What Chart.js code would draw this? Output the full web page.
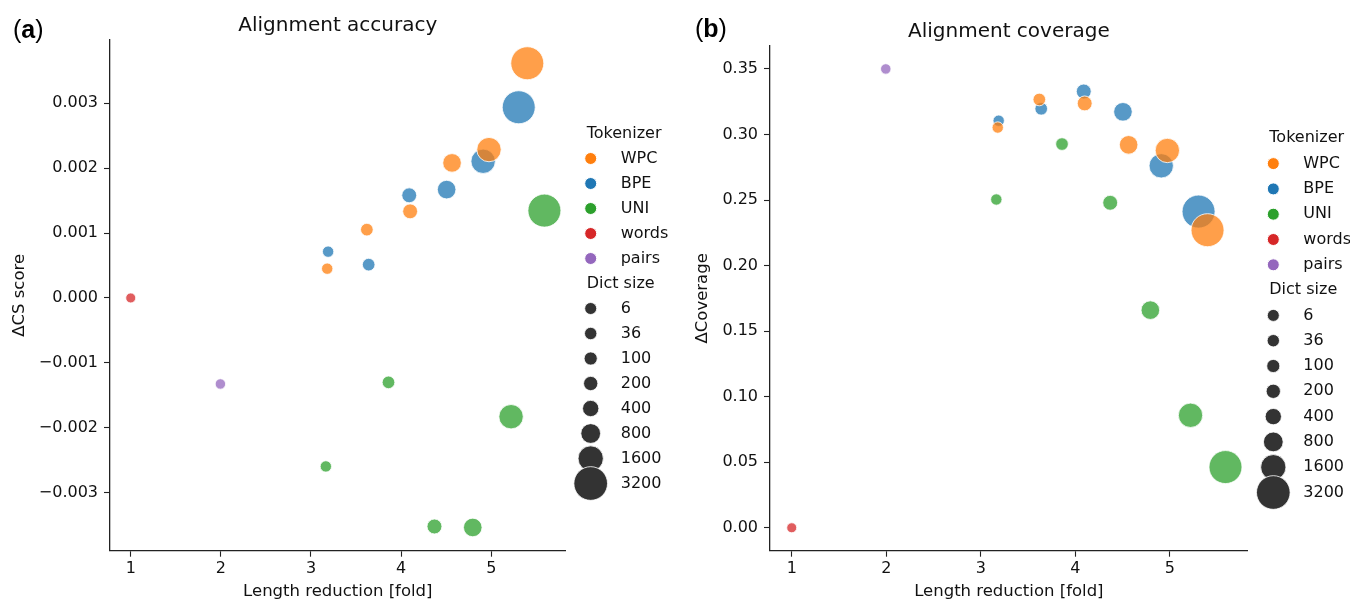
<!DOCTYPE html>
<html><head><meta charset="utf-8">
<script src="https://cdn.jsdelivr.net/npm/chart.js@4/dist/chart.umd.min.js"></script>
<style>
html,body{margin:0;padding:0;background:#fff;}
#wrap{position:relative;width:1350px;height:600px;overflow:hidden;background:#fff;}
canvas{position:absolute;top:0;}
#c1{left:0;} #c2{left:675px;}
</style></head><body>
<div id="wrap"><canvas id="c1" width="675" height="600"></canvas><canvas id="c2" width="675" height="600"></canvas></div>
<script>
// ---------------- data ----------------
const tokenizers = ['WPC', 'BPE', 'UNI', 'words', 'pairs'];
const dictSizes = [6, 36, 100, 200, 400, 800, 1600, 3200];
const subwordDict = [100, 200, 400, 800, 1600, 3200];
const wordsDict = [6];
const pairsDict = [36];

const wpcReduction = [3.18, 3.62, 4.10, 4.565, 4.975, 5.40];
const bpeReduction = [3.19, 3.64, 4.09, 4.505, 4.91, 5.305];
const uniReduction = [3.165, 3.86, 4.37, 4.795, 5.22, 5.59];
const wordsReduction = [1.0];
const pairsReduction = [1.995];

const wpcCS = [0.000451, 0.001052, 0.001334, 0.00208, 0.002285, 0.003615];
const bpeCS = [0.000713, 0.000513, 0.001581, 0.001669, 0.002105, 0.002937];
const uniCS = [-0.002595, -0.0013, -0.00352, -0.003535, -0.001829, 0.001345];
const wordsCS = [0.0];
const pairsCS = [-0.001325];

const wpcCov = [0.3053, 0.3267, 0.3237, 0.2921, 0.2878, 0.2270];
const bpeCov = [0.3105, 0.3196, 0.3328, 0.3173, 0.2761, 0.2412];
const uniCov = [0.2504, 0.2927, 0.2479, 0.1660, 0.0858, 0.0463];
const wordsCov = [0.0];
const pairsCov = [0.350];

const xTicks = [1, 2, 3, 4, 5];
const xTickLabels = ['1', '2', '3', '4', '5'];
const csTicks = [-0.003, -0.002, -0.001, 0, 0.001, 0.002, 0.003];
const csTickLabels = ['\u22120.003', '\u22120.002', '\u22120.001', '0.000', '0.001', '0.002', '0.003'];
const covTicks = [0, 0.05, 0.10, 0.15, 0.20, 0.25, 0.30, 0.35];
const covTickLabels = ['0.00', '0.05', '0.10', '0.15', '0.20', '0.25', '0.30', '0.35'];

// ---------------- styles ----------------
const FONT = 'DejaVu Sans';
Chart.defaults.font.family = FONT;
Chart.defaults.color = '#111';
const tokColors = { WPC: [255,127,14], BPE: [31,119,180], UNI: [44,160,44], words: [214,39,40], pairs: [148,103,189] };
const rgba = (c, a) => `rgba(${c[0]},${c[1]},${c[2]},${a})`;
const sMin = Math.min(...dictSizes), sMax = Math.max(...dictSizes);
function markerDiameter(s) { // area-linear size mapping
  const a0 = 100, a1 = 1089;
  return Math.sqrt(a0 + (s - sMin) * (a1 - a0) / (sMax - sMin));
}

function makeDatasets(ys) {
  const groups = [
    ['WPC', wpcReduction, ys.WPC, subwordDict],
    ['BPE', bpeReduction, ys.BPE, subwordDict],
    ['UNI', uniReduction, ys.UNI, subwordDict],
    ['words', wordsReduction, ys.words, wordsDict],
    ['pairs', pairsReduction, ys.pairs, pairsDict]
  ];
  return groups.map(([name, xs, yv, ds]) => ({
    label: name,
    data: xs.map((x, i) => ({ x: x, y: yv[i] })),
    pointRadius: ds.map(s => markerDiameter(s) / 2),
    pointHoverRadius: ds.map(s => markerDiameter(s) / 2),
    backgroundColor: rgba(tokColors[name], 0.75),
    borderColor: 'rgba(255,255,255,0.8)',
    borderWidth: 1,
    showLine: false
  }));
}

const extrasPlugin = {
  id: 'extras',
  afterDraw(chart, args, o) {
    const ctx = chart.ctx, ca = chart.chartArea;
    ctx.save();
    // title
    ctx.fillStyle = '#111';
    ctx.font = `20px "${FONT}"`;
    ctx.textAlign = 'center';
    ctx.textBaseline = 'alphabetic';
    ctx.fillText(o.title, (ca.left + ca.right) / 2, o.titleBaseline);
    // panel label "(a)"
    ctx.textAlign = 'left';
    let x = o.panelX;
    const parts = [['(', ''], [o.panel, 'bold '], [')', '']];
    for (const [t, w] of parts) {
      ctx.font = `${w}25px "Liberation Sans"`;
      ctx.fillStyle = '#000';
      ctx.fillText(t, x, o.panelBaseline);
      x += ctx.measureText(t).width;
    }
    // legend
    const rowY = k => o.legTop + k * o.legStep;
    ctx.textBaseline = 'middle';
    ctx.font = `16px "${FONT}"`;
    ctx.fillStyle = '#111';
    ctx.fillText('Tokenizer', o.legX, rowY(0));
    tokenizers.forEach((t, i) => {
      const y = rowY(1 + i);
      ctx.beginPath();
      ctx.arc(o.legX + 4, y, 6, 0, Math.PI * 2);
      ctx.fillStyle = rgba(tokColors[t], 1);
      ctx.fill();
      ctx.lineWidth = 1; ctx.strokeStyle = '#fff'; ctx.stroke();
      ctx.fillStyle = '#111';
      ctx.fillText(t, o.legX + 34, y);
    });
    ctx.fillText('Dict size', o.legX, rowY(6));
    dictSizes.forEach((s, i) => {
      const y = rowY(7 + i);
      const d = Math.sqrt(markerDiameter(s) ** 2 + 44);
      ctx.beginPath();
      ctx.arc(o.legX + 4, y, d / 2, 0, Math.PI * 2);
      ctx.fillStyle = '#333';
      ctx.fill();
      ctx.lineWidth = 1; ctx.strokeStyle = 'rgba(255,255,255,0.8)'; ctx.stroke();
      ctx.fillStyle = '#111';
      ctx.fillText(String(s), o.legX + 34, y);
    });
    ctx.restore();
  }
};

function axisX() {
  return {
    type: 'linear', min: 0.77, max: 5.825,
    afterBuildTicks: s => { s.ticks = xTicks.map(v => ({ value: v })); },
    afterFit: s => { s.height = 49.3; },
    ticks: { font: { size: 16 }, color: '#111', padding: 3, maxRotation: 0,
      callback: v => { const i = xTicks.indexOf(v); return i >= 0 ? xTickLabels[i] : ''; } },
    grid: { display: true, drawOnChartArea: false, drawTicks: true, tickLength: 6, tickWidth: 1.1, tickColor: '#222' },
    border: { display: true, color: '#222', width: 1.3 },
    title: { display: true, text: 'Length reduction [fold]', font: { size: 16.5, lineHeight: 1 }, color: '#111', padding: { top: 0, bottom: 0 } }
  };
}
function axisY(min, max, ticks, labels, width, title, titlePad) {
  return {
    type: 'linear', min: min, max: max,
    afterBuildTicks: s => { s.ticks = ticks.map(v => ({ value: v })); },
    afterFit: s => { s.width = width; },
    ticks: { font: { size: 16 }, color: '#111', padding: 6,
      callback: v => { const i = ticks.indexOf(v); return i >= 0 ? labels[i] : ''; } },
    grid: { display: true, drawOnChartArea: false, drawTicks: true, tickLength: 6, tickWidth: 1.1, tickColor: '#222' },
    border: { display: true, color: '#222', width: 1.3 },
    title: { display: true, text: title, font: { size: 16.5, lineHeight: 1 }, color: '#111', padding: { top: titlePad, bottom: 0 } }
  };
}

function baseOptions(padding, yAxis, extras) {
  return {
    responsive: false, animation: false, devicePixelRatio: 1,
    layout: { padding: padding },
    plugins: { legend: { display: false }, title: { display: false }, tooltip: { enabled: false }, extras: extras },
    events: [],
    scales: { x: axisX(), y: yAxis }
  };
}

new Chart(document.getElementById('c1'), {
  type: 'scatter',
  data: { datasets: makeDatasets({ WPC: wpcCS, BPE: bpeCS, UNI: uniCS, words: wordsCS, pairs: pairsCS }) },
  options: baseOptions(
    { left: 0, top: 40, right: 109.4, bottom: 0 },
    axisY(-0.003893, 0.003973, csTicks, csTickLabels, 110, '\u0394CS score', 11),
    { title: 'Alignment accuracy', titleBaseline: 31, panel: 'a', panelX: 13, panelBaseline: 37.5,
      legX: 586.7, legTop: 133.5, legStep: 25 }
  ),
  plugins: [extrasPlugin]
});

new Chart(document.getElementById('c2'), {
  type: 'scatter',
  data: { datasets: makeDatasets({ WPC: wpcCov, BPE: bpeCov, UNI: uniCov, words: wordsCov, pairs: pairsCov }) },
  options: baseOptions(
    { left: 0, top: 46, right: 102.3, bottom: 0 },
    axisY(-0.0175, 0.3675, covTicks, covTickLabels, 95, '\u0394Coverage', 19),
    { title: 'Alignment coverage', titleBaseline: 36.7, panel: 'b', panelX: 20, panelBaseline: 37.3,
      legX: 594.3, legTop: 138.3, legStep: 25.3 }
  ),
  plugins: [extrasPlugin]
});
</script>
</body></html>
